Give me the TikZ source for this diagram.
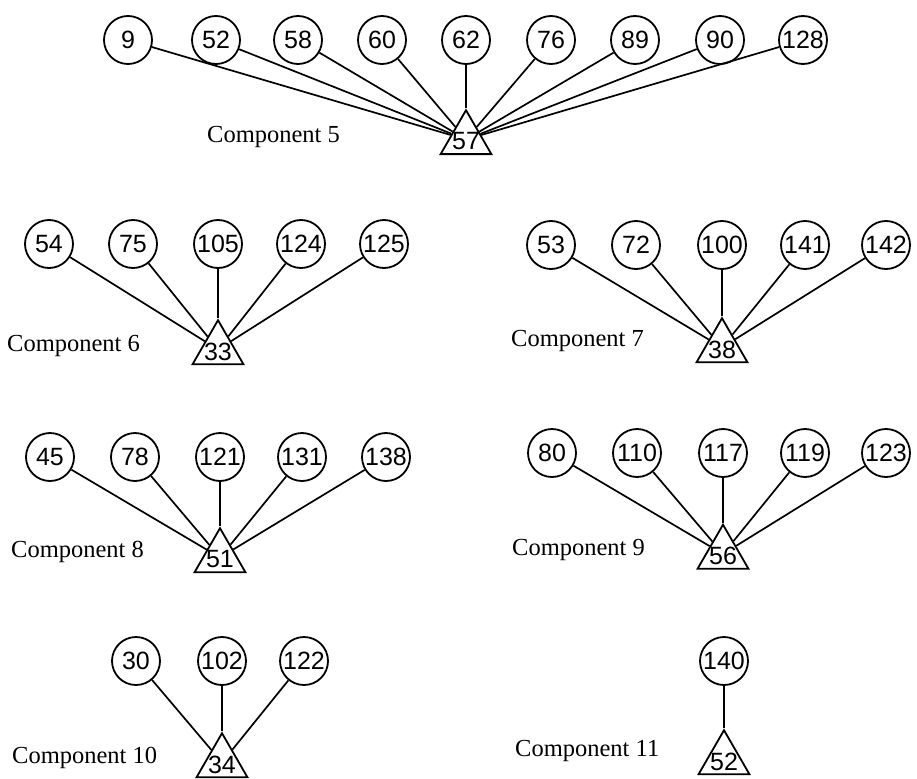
\documentclass[tikz,border=0pt]{standalone}
\usepackage{fontspec}
\setmainfont{Liberation Serif}
\newfontfamily\numfont{Liberation Sans}
\usetikzlibrary{shapes.geometric}
\begin{document}
\begin{tikzpicture}[x=1pt,y=-1pt,
  vert/.style={circle,draw,line width=1.8pt,minimum size=48pt,inner sep=0pt,
    font=\numfont\fontsize{25}{25}\selectfont},
  hub/.style={regular polygon,regular polygon sides=3,draw,line width=1.8pt,
    minimum size=58.6pt,inner sep=0pt},
  numlab/.style={font=\numfont\fontsize{25}{25}\selectfont,inner sep=0pt,yshift=-2pt},
  edge/.style={line width=1.7pt},
  comp/.style={anchor=base west,inner sep=0pt,font=\fontsize{24.5}{24.5}\selectfont}]

\useasboundingbox[fill=white] (0,0) rectangle (917,778);

% Component 5
\node[hub,label={[numlab]center:57}] (t57) at (466,139.5) {};
\foreach \n/\x in {9/128,52/216,58/298,60/382,62/466,76/551,89/635,90/720,128/803}
  \node[vert] (c\n) at (\x,40) {\n};
\foreach \n in {9,52,58,60,62,76,89,90,128}
  \draw[edge] (c\n) -- (t57);
\node[comp] (l5) at (207,143) {Component 5};

% Component 6
\node[hub,label={[numlab]center:33}] (t33) at (218,349.5) {};
\foreach \n/\x in {54/49,75/133,105/218,124/301,125/384}
  \node[vert] (c\n) at (\x,244) {\n};
\foreach \n in {54,75,105,124,125}
  \draw[edge] (c\n) -- (t33);
\node[comp] (l6) at (7,351.5) {Component 6};

% Component 7
\node[hub,label={[numlab]center:38}] (t38) at (722,347.5) {};
\foreach \n/\x in {53/551,72/636,100/722,141/805,142/886}
  \node[vert] (c\n) at (\x,245) {\n};
\foreach \n in {53,72,100,141,142}
  \draw[edge] (c\n) -- (t38);
\node[comp] (l7) at (511,346.5) {Component 7};

% Component 8
\node[hub,label={[numlab]center:51}] (t51) at (220,557.5) {};
\foreach \n/\x in {45/50,78/135,121/220,131/302,138/386}
  \node[vert] (c\n) at (\x,457) {\n};
\foreach \n in {45,78,121,131,138}
  \draw[edge] (c\n) -- (t51);
\node[comp] (l8) at (11,557.5) {Component 8};

% Component 9
\node[hub,label={[numlab]center:56}] (t56) at (723,554) {};
\foreach \n/\x in {80/552,110/637,117/723,119/805,123/886}
  \node[vert] (c\n) at (\x,453) {\n};
\foreach \n in {80,110,117,119,123}
  \draw[edge] (c\n) -- (t56);
\node[comp] (l9) at (512,555) {Component 9};

% Component 10
\node[hub,label={[numlab]center:34}] (t34) at (222,762.5) {};
\foreach \n/\x in {30/136,102/222,122/304}
  \node[vert] (c\n) at (\x,661) {\n};
\foreach \n in {30,102,122}
  \draw[edge] (c\n) -- (t34);
\node[comp] (l10) at (12,763) {Component 10};

% Component 11
\node[hub,label={[numlab]center:52}] (t52) at (724,759.5) {};
\node[vert] (c140) at (724,661) {140};
\draw[edge] (c140) -- (t52);
\node[comp] (l11) at (515,756.5) {Component 11};
\end{tikzpicture}
\end{document}
